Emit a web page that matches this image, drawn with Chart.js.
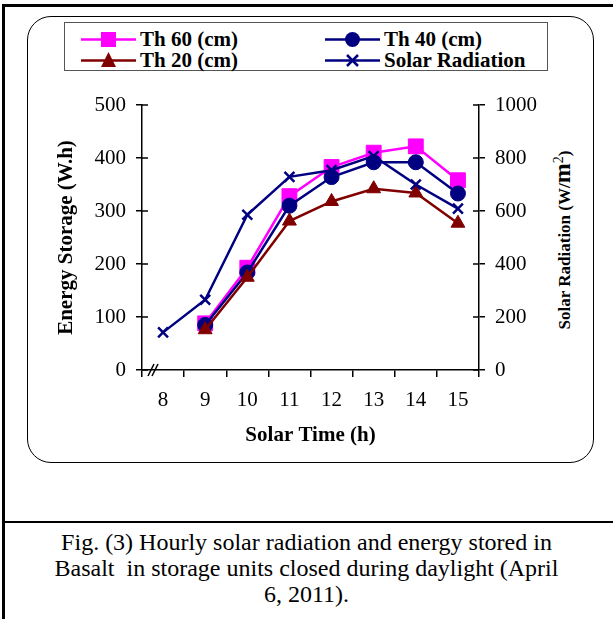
<!DOCTYPE html>
<html>
<head>
<meta charset="utf-8">
<script src="https://cdn.jsdelivr.net/npm/chart.js@4/dist/chart.umd.min.js"></script>
<style>
  html, body { margin: 0; padding: 0; background: #fff; }
  body { width: 613px; height: 619px; position: relative; overflow: hidden;
         font-family: "Liberation Serif", "Times New Roman", serif; }
  #frame { position: absolute; left: 2px; top: 4px; width: 620px; height: 640px;
           border-left: 3px solid #000; border-top: 3px solid #000; }
  #sep { position: absolute; left: 2px; top: 521px; width: 620px; border-top: 2px solid #000; }
  #round { position: absolute; left: 27px; top: 16px; width: 565px; height: 445px;
           border: 1.5px solid #000; border-radius: 24px; }
  #legend { position: absolute; left: 64px; top: 22px; width: 484px; height: 49px;
            border: 1px solid #555; box-sizing: border-box; }
  .item { position: absolute; font-weight: bold; font-size: 21px; line-height: 21px;
          display: flex; align-items: center; }
  .item svg { margin-right: 4px; }
  #rtitle { position: absolute; left: 562px; top: 240px; transform: translate(-50%, -50%) rotate(-90deg);
            white-space: nowrap; font-weight: bold; font-size: 17px; }
  #caption { position: absolute; left: 0; top: 529px; width: 613px; text-align: center;
             font-size: 24px; line-height: 26px; }
  #c { position: absolute; left: 0; top: 0; }
</style>
</head>
<body>
<div id="frame"></div>
<div id="round"></div>
<div id="sep"></div>
<div id="legend"></div>
<div id="rtitle">Solar Radiation (W/<span style="font-size:24px">m</span><sup style="font-size:14px;font-weight:normal">2</sup>)</div>
<div id="caption">Fig. (3) Hourly solar radiation and energy stored in<br>Basalt&nbsp; in storage units closed during daylight (April<br>6, 2011).</div>
<canvas id="c" width="613" height="619"></canvas>
<script>
const hours = ["8", "9", "10", "11", "12", "13", "14", "15"];
const th60 = [null, 88, 193, 328, 383, 410, 422, 358];
const th40 = [null, 85, 184, 310, 364, 392, 392, 333];
const th20 = [null, 76, 175, 281, 318, 342, 334, 277];
const solar = [142, 265, 586, 729, 754, 807, 700, 609];

const serif = "'Liberation Serif', 'Times New Roman', serif";

const series = [
  { label: "Th 60 (cm)", data: th60, color: "#ff00ff", point: "rect", radius: 10.5, axis: "y", order: 4 },
  { label: "Th 40 (cm)", data: th40, color: "#000080", point: "circle", radius: 7.5, axis: "y", order: 3 },
  { label: "Th 20 (cm)", data: th20, color: "#800000", point: "triangle", radius: 8, axis: "y", order: 2 },
  { label: "Solar Radiation", data: solar, color: "#000080", point: "crossRot", radius: 7, axis: "y1", order: 1 }
];

// legend (html, two columns)
const legendPos = [[16, 6], [260, 6], [16, 27], [260, 27]];
const legend = document.getElementById("legend");
series.forEach((s, i) => {
  let mk = "";
  if (s.point === "rect") mk = `<rect x="20" y="3" width="15" height="15" fill="${s.color}"/>`;
  if (s.point === "circle") mk = `<circle cx="27.5" cy="10.5" r="7.5" fill="${s.color}"/>`;
  if (s.point === "triangle") mk = `<polygon points="27.5,2 35,17 20,17" fill="${s.color}"/>`;
  if (s.point === "crossRot") mk = `<path d="M22 5 L33 16 M33 5 L22 16" stroke="${s.color}" stroke-width="2.5"/>`;
  const d = document.createElement("div");
  d.className = "item";
  d.style.left = legendPos[i][0] + "px";
  d.style.top = legendPos[i][1] + "px";
  d.innerHTML = `<svg width="55" height="21"><line x1="0" y1="10.5" x2="55" y2="10.5" stroke="${s.color}" stroke-width="2.5"/>${mk}</svg>${s.label}`;
  legend.appendChild(d);
});

// inner halves of the crossing ticks + axis break mark
const extras = {
  id: "extras",
  afterDraw(chart) {
    const ctx = chart.ctx;
    const area = chart.chartArea;
    ctx.save();
    ctx.strokeStyle = "#000";
    ctx.lineWidth = 1.5;
    const yl = chart.scales.y, yr = chart.scales.y1;
    yl.ticks.forEach((t, i) => {
      const py = yl.getPixelForTick(i);
      ctx.beginPath(); ctx.moveTo(area.left, py); ctx.lineTo(area.left + 6, py); ctx.stroke();
    });
    yr.ticks.forEach((t, i) => {
      const py = yr.getPixelForTick(i);
      ctx.beginPath(); ctx.moveTo(area.right - 6, py); ctx.lineTo(area.right, py); ctx.stroke();
    });
    // break "//"
    const bx = area.left + 9, by = area.bottom;
    [0, 4].forEach(dx => {
      ctx.beginPath(); ctx.moveTo(bx + dx - 3, by + 6); ctx.lineTo(bx + dx + 3, by - 6); ctx.stroke();
    });
    ctx.restore();
  }
};

new Chart(document.getElementById("c").getContext("2d"), {
  type: "line",
  data: {
    labels: hours,
    datasets: series.map(s => ({
      label: s.label,
      data: s.data,
      yAxisID: s.axis,
      order: s.order,
      borderColor: s.color,
      backgroundColor: s.color,
      borderWidth: 2.5,
      pointStyle: s.point,
      pointRadius: s.radius,
      pointHoverRadius: s.radius,
      pointBorderWidth: s.point === "crossRot" ? 2.5 : 1,
      tension: 0,
      spanGaps: false
    }))
  },
  options: {
    responsive: false,
    animation: false,
    events: [],
    layout: { padding: { left: 50, right: 74, top: 105, bottom: 169 } },
    plugins: { legend: { display: false }, tooltip: { enabled: false } },
    scales: {
      x: {
        type: "category",
        offset: true,
        afterFit(scale) { scale.height = 80; },
        grid: { offset: true, drawOnChartArea: false, drawTicks: true, tickLength: 7, color: "#000", lineWidth: 1.5 },
        border: { color: "#000", width: 1.5 },
        ticks: { color: "#000", font: { family: serif, size: 21 }, padding: 11, maxRotation: 0 },
        title: { display: true, text: "Solar Time (h)", color: "#000",
                 font: { family: serif, size: 21, weight: "bold" }, padding: { top: 0, bottom: 2 } }
      },
      y: {
        position: "left",
        min: 0, max: 500,
        afterFit(scale) { scale.width = 92; },
        grid: { drawOnChartArea: false, drawTicks: true, tickLength: 6, color: "#000", lineWidth: 1.5 },
        border: { color: "#000", width: 1.5 },
        ticks: { stepSize: 100, color: "#000", font: { family: serif, size: 21 }, padding: 10 },
        title: { display: true, text: "Energy Storage (W.h)", color: "#000",
                 font: { family: serif, size: 21, weight: "bold" }, padding: { top: 4, bottom: 0 } }
      },
      y1: {
        position: "right",
        min: 0, max: 1000,
        afterFit(scale) { scale.width = 60; },
        grid: { drawOnChartArea: false, drawTicks: true, tickLength: 6, color: "#000", lineWidth: 1.5 },
        border: { color: "#000", width: 1.5 },
        ticks: { stepSize: 200, color: "#000", font: { family: serif, size: 21 }, padding: 10,
                 callback: v => String(v) }
      }
    }
  },
  plugins: [extras]
});
</script>
</body>
</html>
